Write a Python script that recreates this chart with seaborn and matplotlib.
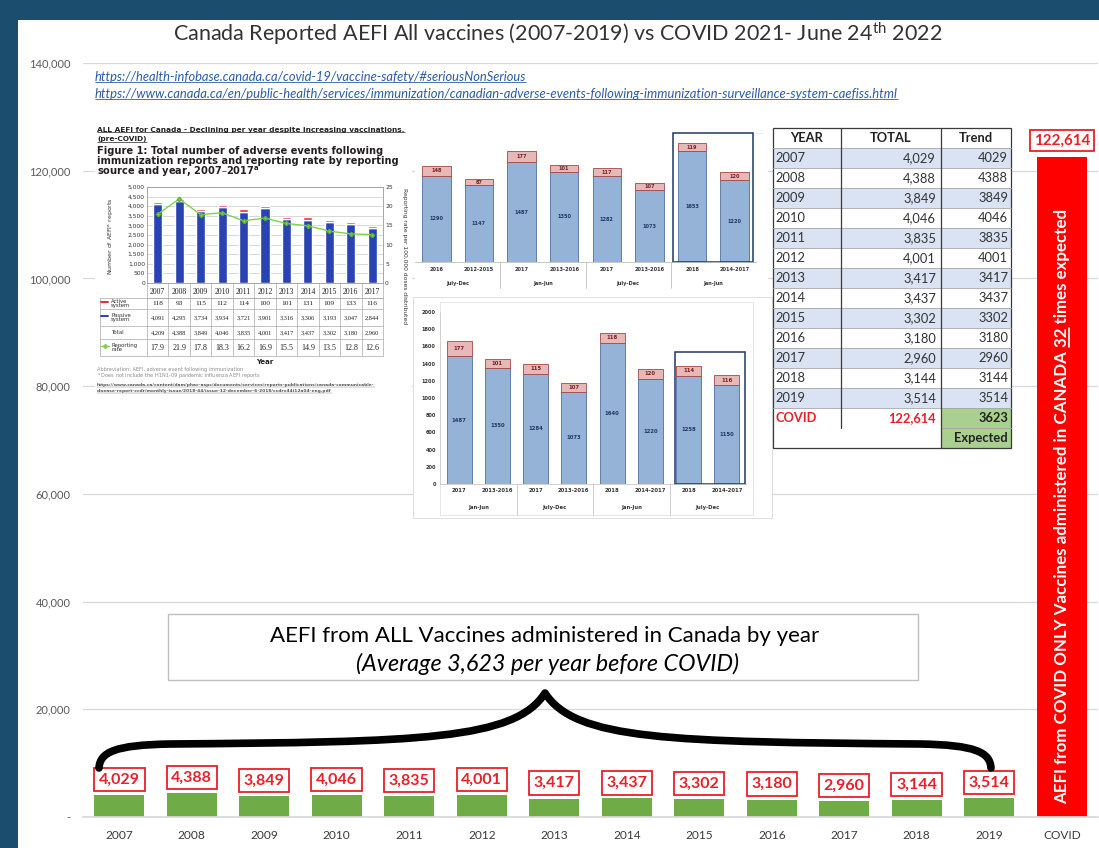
import numpy as np
import pandas as pd
import matplotlib
matplotlib.use("Agg")
import matplotlib.pyplot as plt
import matplotlib.transforms as mtransforms
from matplotlib import font_manager as fm
from matplotlib.patches import Rectangle, PathPatch
from matplotlib.path import Path
import seaborn as sns

# ---------------- data ----------------
categories = ["2007", "2008", "2009", "2010", "2011", "2012", "2013",
              "2014", "2015", "2016", "2017", "2018", "2019", "COVID"]
aefi_reports = [4029, 4388, 3849, 4046, 3835, 4001, 3417,
                3437, 3302, 3180, 2960, 3144, 3514, 122614]
trend_values = [4029, 4388, 3849, 4046, 3835, 4001, 3417,
                3437, 3302, 3180, 2960, 3144, 3514, 3623]
y_ticks = [0, 20000, 40000, 60000, 80000, 100000, 120000, 140000]
y_tick_labels = ["-", "20,000", "40,000", "60,000", "80,000", "100,000", "120,000", "140,000"]

# inset: PHAC Figure 1
fig1_years = ["2007", "2008", "2009", "2010", "2011", "2012", "2013", "2014", "2015", "2016", "2017"]
fig1_active = [118, 93, 115, 112, 114, 100, 101, 131, 109, 133, 116]
fig1_passive = [4091, 4295, 3734, 3934, 3721, 3901, 3316, 3306, 3193, 3047, 2844]
fig1_total = [4209, 4388, 3849, 4046, 3835, 4001, 3417, 3437, 3302, 3180, 2960]
fig1_rate = [17.9, 21.9, 17.8, 18.3, 16.2, 16.9, 15.5, 14.9, 13.5, 12.8, 12.6]
fig1_left_ticks = [0, 500, 1000, 1500, 2000, 2500, 3000, 3500, 4000, 4500, 5000]
fig1_right_ticks = [0, 5, 10, 15, 20, 25]

# inset: half-year comparison (upper)
top_labels = ["2016", "2012-2015", "2017", "2013-2016", "2017", "2013-2016", "2018", "2014-2017"]
top_periods = ["July-Dec", "Jan-Jun", "July-Dec", "Jan-Jun"]
top_nonserious = [1290, 1147, 1487, 1350, 1282, 1073, 1653, 1220]
top_serious = [148, 87, 177, 101, 117, 107, 119, 120]

# inset: half-year comparison (lower)
bot_labels = ["2017", "2013-2016", "2017", "2013-2016", "2018", "2014-2017", "2018", "2014-2017"]
bot_periods = ["Jan-Jun", "July-Dec", "Jan-Jun", "July-Dec"]
bot_nonserious = [1487, 1350, 1284, 1073, 1640, 1220, 1258, 1150]
bot_serious = [177, 101, 115, 107, 118, 120, 114, 116]
bot_ticks = [0, 200, 400, 600, 800, 1000, 1200, 1400, 1600, 1800, 2000]

# ---------------- style ----------------
sns.set_theme(style="white")


def pick(names):
    for n in names:
        try:
            fm.findfont(fm.FontProperties(family=n), fallback_to_default=False)
            return n
        except Exception:
            continue
    return "DejaVu Sans"


FONT = pick(["Lato", "Open Sans", "Liberation Sans"])
SERIF = pick(["Liberation Serif", "DejaVu Serif"])
VERD = "DejaVu Sans"
plt.rcParams["font.family"] = [FONT, "DejaVu Sans"]
plt.rcParams["mathtext.default"] = "regular"

W, H = 1099, 848
fig = plt.figure(figsize=(W / 100, H / 100), dpi=100)
fig.patch.set_facecolor("#1b4e6e")
fig.patches.append(Rectangle((18 / W, 0), 1 - 18 / W, (H - 20) / H, transform=fig.transFigure,
                             fc="white", ec="none", zorder=-10))
renderer = fig.canvas.get_renderer()


def px_axes(x0, y0, x1, y1):
    return fig.add_axes([x0 / W, 1 - y1 / H, (x1 - x0) / W, (y1 - y0) / H])


def fit_w(t, target):
    bb = t.get_window_extent(renderer)
    t.set_fontsize(t.get_fontsize() * target / bb.width)


# ---------------- main chart ----------------
GREEN = "#6fab46"
RED = "#ff0000"
BOXRED = "#e8202a"
ax = px_axes(83, 63, 1098, 817)
ax.set_facecolor("none")
df = pd.DataFrame({"category": categories, "aefi": aefi_reports})
pal = {c: (RED if c == "COVID" else GREEN) for c in categories}
sns.barplot(data=df, x="category", y="aefi", hue="category", palette=pal, width=0.69,
            saturation=1, legend=False, ax=ax, edgecolor="none")
ax.set_ylim(0, 140000)
ax.set_xlim(-0.5, 13.5)
ax.set_yticks(y_ticks)
ax.set_yticklabels(y_tick_labels, fontsize=8, color="#595959")
ax.tick_params(axis="y", length=0, pad=9)
ax.tick_params(axis="x", length=0, pad=9.5, labelsize=8.6, labelcolor="#3a3a3a")
ax.set_xlabel("")
ax.set_ylabel("")
ax.grid(axis="y", color="#d9d9d9", lw=0.9)
ax.set_axisbelow(True)
for s in ["top", "right", "left"]:
    ax.spines[s].set_visible(False)
ax.spines["bottom"].set_color("#d9d9d9")

for i, v in enumerate(aefi_reports[:-1]):
    ax.annotate(f"{v:,}", xy=(i, v), xytext=(0, 6.3), textcoords="offset points",
                ha="center", va="bottom", fontsize=11.5, fontweight="bold", color=BOXRED,
                bbox=dict(boxstyle="square,pad=0.3", fc="white", ec=BOXRED, lw=1.3))
ax.annotate(f"{aefi_reports[-1]:,}", xy=(13, aefi_reports[-1]), xytext=(0, 6.6),
            textcoords="offset points", ha="center", va="bottom", fontsize=10.8,
            fontweight="bold", color=BOXRED,
            bbox=dict(boxstyle="square,pad=0.25", fc="white", ec=BOXRED, lw=1.3))

# overlay in pixel coordinates (top-down)
ov = fig.add_axes([0, 0, 1, 1])
ov.set_xlim(0, W)
ov.set_ylim(H, 0)
ov.axis("off")
ov.patch.set_alpha(0)


def underline(t, color, lw=0.6):
    bb = t.get_window_extent(renderer)
    (x0, y0), (x1, y1) = ov.transData.inverted().transform([[bb.x0, bb.y0], [bb.x1, bb.y1]])
    yb = max(y0, y1) - 0.12 * abs(y1 - y0)
    ov.plot([min(x0, x1), max(x0, x1)], [yb, yb], color=color, lw=lw, solid_capstyle="butt")


# vertical COVID caption
vt_pre = "AEFI from COVID ONLY Vaccines administered in CANADA "
vt_num = "32"
vt_post = " times expected"
vt = ax.text(13, aefi_reports[-1] * 0.47, vt_pre + vt_num + vt_post, rotation=90,
             ha="center", va="center", color="white", fontweight="bold", fontsize=12)
bb = vt.get_window_extent(renderer)
vt.set_fontsize(12 * 592 / bb.height)
fs = vt.get_fontsize()
tmp = ov.text(0, 0, vt_pre + vt_num, fontsize=fs, fontweight="bold")
w_b = tmp.get_window_extent(renderer).width
tmp.set_text(vt_num)
w_n = tmp.get_window_extent(renderer).width
tmp.set_text(vt_pre + vt_num + vt_post)
L = tmp.get_window_extent(renderer).width
tmp.remove()
cxd, cyd = ax.transData.transform((13, aefi_reports[-1] * 0.47))
cx, cy = ov.transData.inverted().transform((cxd, cyd))
start = cy + L / 2
em = fs / 72 * 100
ov.plot([cx + 0.45 * em, cx + 0.45 * em], [start - (w_b - w_n), start - w_b], color="white", lw=1.2)

# title
t = ov.text(558, 34, "Canada Reported AEFI All vaccines (2007-2019) vs COVID 2021- June 24$^{th}$ 2022",
            ha="center", va="center", fontsize=16, color="#333333")
fit_w(t, 772)

# links
LINK = "#2a5ca8"
for y, txt, wd in [(77, "https://health-infobase.canada.ca/covid-19/vaccine-safety/#seriousNonSerious", 430),
                   (94, "https://www.canada.ca/en/public-health/services/immunization/canadian-adverse-events-following-immunization-surveillance-system-caefiss.html", 802)]:
    t = ov.text(95, y, txt, ha="left", va="center", fontsize=8.5, style="italic", color=LINK)
    fit_w(t, wd)
    underline(t, LINK, lw=0.6)

# text box and brace
ov.add_patch(Rectangle((168, 614), 750, 66, fc="white", ec="#bfbfbf", lw=1))
t = ov.text(545, 636, "AEFI from ALL Vaccines administered in Canada by year", ha="center",
            va="center", fontsize=15, color="black")
fit_w(t, 550)
t = ov.text(547, 664, "(Average 3,623 per year before COVID)", ha="center", va="center",
            fontsize=14, style="italic", color="black")
fit_w(t, 385)

verts = [(99, 768), (100, 752), (115, 745), (170, 744),
         (420, 742), (515, 740), (545, 693),
         (575, 740), (670, 742), (920, 744),
         (975, 745), (990, 752), (991, 768)]
codes = [Path.MOVETO] + [Path.CURVE4] * 12
ov.add_patch(PathPatch(Path(verts, codes), fill=False, ec="black", lw=5.5, capstyle="round",
                       joinstyle="round"))

# ---------------- inset 1 : PHAC figure 1 ----------------
ov.add_patch(Rectangle((95, 122), 317, 275, fc="white", ec="none"))
t = ov.text(97, 130, "ALL AEFI for Canada - Declining per year despite increasing vaccinations.",
            ha="left", va="center", fontsize=5, fontweight="bold", family=VERD, color="#222222")
fit_w(t, 311)
hfs = t.get_fontsize()
underline(t, "#222222", lw=0.5)
t = ov.text(97, 139.5, "(pre-COVID)", ha="left", va="center", fontsize=hfs, fontweight="bold",
            family=VERD, color="#222222")
underline(t, "#222222", lw=0.5)
t = ov.text(97, 161, "immunization reports and reporting rate by reporting", ha="left", va="center",
            fontsize=8, fontweight="bold", family=VERD, color="#231f20")
fit_w(t, 298)
ffs = t.get_fontsize()
ov.text(97, 150.5, "Figure 1: Total number of adverse events following", ha="left", va="center",
        fontsize=ffs, fontweight="bold", family=VERD, color="#231f20")
ov.text(97, 171.5, "source and year, 2007\u20132017$^{a}$", ha="left", va="center",
        fontsize=ffs, fontweight="bold", family=VERD, color="#231f20")

a1 = px_axes(147, 187, 383, 283)
sns.barplot(x=fig1_years, y=fig1_passive, color="#2942b4", width=0.42, saturation=1, ax=a1)
a1.bar(range(len(fig1_years)), fig1_active, bottom=fig1_passive, width=0.42, color="#e8283c")
a1.set_xlim(-0.5, len(fig1_years) - 0.5)
a1.set_ylim(0, 5000)
a1.set_yticks(fig1_left_ticks)
a1.set_yticklabels([f"{v:,}" for v in fig1_left_ticks], fontsize=4.3, family=VERD, color="#333333")
a1.set_xticks([])
a1.set_xlabel("")
a1.set_ylabel("")
a1.grid(axis="y", color="#c8c8c8", lw=0.5)
a1.set_axisbelow(True)
a1.tick_params(length=0, pad=1.5)
for s in a1.spines.values():
    s.set_color("#999999")
    s.set_linewidth(0.6)
a1r = a1.twinx()
a1r.plot(range(len(fig1_years)), fig1_rate, color="#7fd34e", lw=1, marker="D", ms=2.2,
         mec="#5cb531")
a1r.set_ylim(0, 25)
a1r.set_yticks(fig1_right_ticks)
a1r.set_yticklabels([str(v) for v in fig1_right_ticks], fontsize=4.3, family=VERD, color="#333333")
a1r.tick_params(length=0, pad=1.5)
a1r.grid(False)
for s in a1r.spines.values():
    s.set_visible(False)

t = ov.text(111, 236, "Number of AEFI$^{a}$ reports", rotation=90, ha="center", va="center",
            fontsize=4.5, family=VERD, color="#333333")
t = ov.text(404, 256, "Reporting rate per 100,000 doses distributed", rotation=270, ha="center",
            va="center", fontsize=4.3, family=VERD, color="#333333")

bt1 = mtransforms.blended_transform_factory(a1.transData, ov.transData)
n1 = len(fig1_years)
for i in range(n1):
    a1.text(i, 291.5, fig1_years[i], transform=bt1, ha="center", va="center", fontsize=5.6,
            family=SERIF, color="#222222")
    a1.text(i, 303.5, f"{fig1_active[i]}", transform=bt1, ha="center", va="center", fontsize=5.3,
            family=SERIF, color="#222222")
    a1.text(i, 318, f"{fig1_passive[i]:,}", transform=bt1, ha="center", va="center", fontsize=4.6,
            family=SERIF, color="#222222")
    a1.text(i, 333, f"{fig1_total[i]:,}", transform=bt1, ha="center", va="center", fontsize=4.6,
            family=SERIF, color="#222222")
    a1.text(i, 348, f"{fig1_rate[i]}", transform=bt1, ha="center", va="center", fontsize=5.8,
            family=SERIF, color="#222222")
for k in range(n1 + 1):
    a1.plot([k - 0.5, k - 0.5], [283, 356], transform=bt1, color="#aaaaaa", lw=0.5, clip_on=False)
a1.plot([-0.5, n1 - 0.5], [298, 298], transform=bt1, color="#aaaaaa", lw=0.5, clip_on=False)
for yy in [298, 309, 326, 339, 356]:
    ov.plot([100, 383], [yy, yy], color="#aaaaaa", lw=0.5)
ov.plot([100, 100], [298, 356], color="#aaaaaa", lw=0.5)
ov.plot([101, 108], [302, 302], color="#e8283c", lw=1.4)
ov.plot([101, 108], [316, 316], color="#2942b4", lw=1.4)
ov.plot([101, 109], [346, 346], color="#7fd34e", lw=1.0)
ov.plot([105], [346], color="#7fd34e", marker="D", ms=2)
ov.text(111, 303.5, "Active\nsystem", ha="left", va="center", fontsize=3.9, family=VERD,
        linespacing=0.85, color="#333333")
ov.text(111, 317.5, "Passive\nsystem", ha="left", va="center", fontsize=3.9, family=VERD,
        linespacing=0.85, color="#333333")
ov.text(111, 333, "Total", ha="left", va="center", fontsize=3.9, family=VERD, color="#333333")
ov.text(111, 347.5, "Reporting\nrate", ha="left", va="center", fontsize=3.9, family=VERD,
        linespacing=0.85, color="#333333")
ov.text(265, 361.5, "Year", ha="center", va="center", fontsize=5, fontweight="bold", family=VERD,
        color="#222222")
ov.text(97, 369, "Abbreviation: AEFI, adverse event following immunization", ha="left", va="center",
        fontsize=3.6, family=VERD, color="#8c8c8c")
ov.text(97, 376, "$^{a}$ Does not include the H1N1-09 pandemic influenza AEFI reports", ha="left",
        va="center", fontsize=3.6, family=VERD, color="#8c8c8c")
for y, txt in [(385, "https://www.canada.ca/content/dam/phac-aspc/documents/services/reports-publications/canada-communicable-"),
               (391, "disease-report-ccdr/monthly-issue/2018-44/issue-12-december-6-2018/ccdrv44i12a04-eng.pdf")]:
    t = ov.text(97, y, txt, ha="left", va="center", fontsize=3.2, family=VERD, fontweight="bold",
                color="#555555")
    underline(t, "#777777", lw=0.3)

# ---------------- inset 2 : half-year (upper) ----------------
BLUE_L, BLUE_E = "#95b3d7", "#4f6f9f"
PINK_L, PINK_E = "#e6b9b8", "#a34745"
ov.add_patch(Rectangle((415, 122), 353, 168, fc="white", ec="none"))
ov.plot([420, 762], [133, 133], color="#e3e3e3", lw=0.6)
a2 = px_axes(415, 128, 756, 262)
sns.barplot(x=list(range(len(top_labels))), y=top_nonserious, color=BLUE_L, edgecolor=BLUE_E,
            linewidth=0.6, width=0.67, saturation=1, ax=a2)
a2.bar(range(len(top_labels)), top_serious, bottom=top_nonserious, width=0.67, color=PINK_L,
       edgecolor=PINK_E, linewidth=0.6)
for i in range(len(top_labels)):
    a2.text(i, top_nonserious[i] / 2, f"{top_nonserious[i]}", ha="center", va="center",
            fontsize=3.6, fontweight="bold", color="#1f3864", family=VERD)
    a2.text(i, top_nonserious[i] + top_serious[i] / 2, f"{top_serious[i]}", ha="center",
            va="center", fontsize=3.6, fontweight="bold", color="#7a1f1d", family=VERD)
a2.set_xticks(range(len(top_labels)))
a2.set_xticklabels(top_labels, fontsize=3.6, fontweight="bold", color="#333333", family=VERD)
a2.set_yticks([])
a2.set_xlabel("")
a2.set_ylabel("")
a2.tick_params(length=0, pad=3.5)
for s in ["top", "right", "left"]:
    a2.spines[s].set_visible(False)
a2.spines["bottom"].set_color("#bfbfbf")
a2.spines["bottom"].set_linewidth(0.6)
bt2 = mtransforms.blended_transform_factory(a2.transData, ov.transData)
for g, lab in enumerate(top_periods):
    a2.text(2 * g + 0.5, 283, lab, transform=bt2, ha="center", va="center", fontsize=3.6,
            fontweight="bold", color="#333333", family=VERD)
for xs in [1.5, 3.5, 5.5]:
    a2.plot([xs, xs], [262, 288], transform=bt2, color="#bfbfbf", lw=0.6, clip_on=False)
a2.add_patch(Rectangle((5.55, 0), 1.87, 1925, fill=False, ec="#1f3864", lw=1.1, clip_on=False))
a2.set_xlim(-0.5, len(top_labels) - 0.5)
a2.set_ylim(0, 2000)
ov.add_patch(Rectangle((587, 136), 3.5, 3.5, fc=PINK_L, ec="#888888", lw=0.3))
ov.add_patch(Rectangle((587, 150), 3.5, 3.5, fc=BLUE_L, ec="#888888", lw=0.3))
ov.text(592, 138, "Serious", ha="left", va="center", fontsize=4, color="#333333", family=VERD)
ov.text(592, 152, "Non-serious", ha="left", va="center", fontsize=4, color="#333333", family=VERD)

# ---------------- inset 3 : half-year (lower) ----------------
ov.add_patch(Rectangle((413, 297), 359, 221, fc="white", ec="#d9d9d9", lw=0.6))
ov.add_patch(Rectangle((440, 302), 313, 213, fill=False, ec="#e0e0e0", lw=0.6))
a3 = px_axes(440, 312, 746, 484)
sns.barplot(x=list(range(len(bot_labels))), y=bot_nonserious, color=BLUE_L, edgecolor=BLUE_E,
            linewidth=0.6, width=0.65, saturation=1, ax=a3)
a3.bar(range(len(bot_labels)), bot_serious, bottom=bot_nonserious, width=0.65, color=PINK_L,
       edgecolor=PINK_E, linewidth=0.6)
for i in range(len(bot_labels)):
    a3.text(i, bot_nonserious[i] / 2, f"{bot_nonserious[i]}", ha="center", va="center",
            fontsize=3.8, fontweight="bold", color="#1f3864", family=VERD)
    a3.text(i, bot_nonserious[i] + bot_serious[i] / 2, f"{bot_serious[i]}", ha="center",
            va="center", fontsize=3.8, fontweight="bold", color="#7a1f1d", family=VERD)
a3.set_xticks(range(len(bot_labels)))
a3.set_xticklabels(bot_labels, fontsize=3.8, fontweight="bold", color="#333333", family=VERD)
a3.set_yticks(bot_ticks)
a3.set_yticklabels([str(v) for v in bot_ticks], fontsize=3.6, fontweight="bold", color="#333333",
                   family=VERD)
a3.set_xlabel("")
a3.set_ylabel("")
a3.tick_params(length=0, pad=3)
for s in ["top", "right"]:
    a3.spines[s].set_visible(False)
for s in ["bottom", "left"]:
    a3.spines[s].set_color("#c8c8c8")
    a3.spines[s].set_linewidth(0.6)
bt3 = mtransforms.blended_transform_factory(a3.transData, ov.transData)
for g, lab in enumerate(bot_periods):
    a3.text(2 * g + 0.5, 508, lab, transform=bt3, ha="center", va="center", fontsize=3.8,
            fontweight="bold", color="#333333", family=VERD)
for xs in [1.5, 3.5, 5.5]:
    a3.plot([xs, xs], [484, 515], transform=bt3, color="#c8c8c8", lw=0.6, clip_on=False)
a3.add_patch(Rectangle((5.64, 0), 1.83, 1535, fill=False, ec="#1f3864", lw=1.1, clip_on=False))
a3.set_xlim(-0.5, len(bot_labels) - 0.5)
a3.set_ylim(0, 2000)
ov.add_patch(Rectangle((515, 319.5), 3.5, 3.5, fc=PINK_L, ec="#888888", lw=0.3))
ov.add_patch(Rectangle((515, 335.5), 3.5, 3.5, fc=BLUE_L, ec="#888888", lw=0.3))
ov.text(521, 321.5, "Serious", ha="left", va="center", fontsize=4.4, color="#333333", family=VERD)
ov.text(521, 337.5, "Non-serious", ha="left", va="center", fontsize=4.4, color="#333333",
        family=VERD)

# ---------------- table ----------------
tx0, tx1, tx2, tx3 = 773, 841, 941, 1011
ty0, rh = 128, 20
ov.add_patch(Rectangle((tx0, ty0), tx3 - tx0, rh * 16, fc="white", ec="none"))
nrow = len(categories)
for i in range(nrow):
    y = ty0 + rh * (i + 1)
    if i < nrow - 1 and i % 2 == 0:
        ov.add_patch(Rectangle((tx0, y), tx3 - tx0, rh, fc="#dae3f3", ec="none"))
ov.add_patch(Rectangle((tx2, ty0 + rh * nrow), tx3 - tx2, rh * 2, fc="#a9d08e", ec="none"))
for k in range(1, nrow + 1):
    ov.plot([tx0, tx3], [ty0 + rh * k, ty0 + rh * k], color="#a6a6a6", lw=0.6)
ov.plot([tx2, tx3], [ty0 + rh * (nrow + 1)] * 2, color="#a6a6a6", lw=0.6)
ov.add_patch(Rectangle((tx0, ty0), tx3 - tx0, rh * (nrow + 2), fill=False, ec="#3a3a3a", lw=0.9))
ov.plot([tx1, tx1], [ty0, ty0 + rh * (nrow + 1)], color="#3a3a3a", lw=0.9)
ov.plot([tx2, tx2], [ty0, ty0 + rh * (nrow + 2)], color="#3a3a3a", lw=0.9)
TFS = 9.3
ov.text((tx0 + tx1) / 2, ty0 + rh / 2, "YEAR", ha="center", va="center", fontsize=TFS,
        fontweight="bold", color="#222222")
ov.text((tx1 + tx2) / 2, ty0 + rh / 2, "TOTAL", ha="center", va="center", fontsize=TFS,
        fontweight="bold", color="#222222")
ov.text((tx2 + tx3) / 2, ty0 + rh / 2, "Trend", ha="center", va="center", fontsize=TFS,
        fontweight="bold", color="#222222")
for i in range(nrow):
    yc = ty0 + rh * (i + 1) + rh / 2
    covid = categories[i] == "COVID"
    col = "#e8202a" if covid else "#333333"
    wt = "bold" if covid else "normal"
    ov.text(tx0 + 2, yc, categories[i], ha="left", va="center", fontsize=TFS, color=col,
            fontweight=wt)
    ov.text(tx2 - 5, yc, f"{aefi_reports[i]:,}", ha="right", va="center", fontsize=TFS, color=col,
            fontweight=wt)
    ov.text(tx3 - 3, yc, f"{trend_values[i]}", ha="right", va="center", fontsize=TFS,
            color="#222222" if covid else "#333333", fontweight=wt)
ov.text(tx3 - 3, ty0 + rh * (nrow + 1) + rh / 2, "Expected", ha="right", va="center",
        fontsize=TFS, fontweight="bold", color="#222222")

fig.savefig("out.png", dpi=100, facecolor=fig.get_facecolor())
